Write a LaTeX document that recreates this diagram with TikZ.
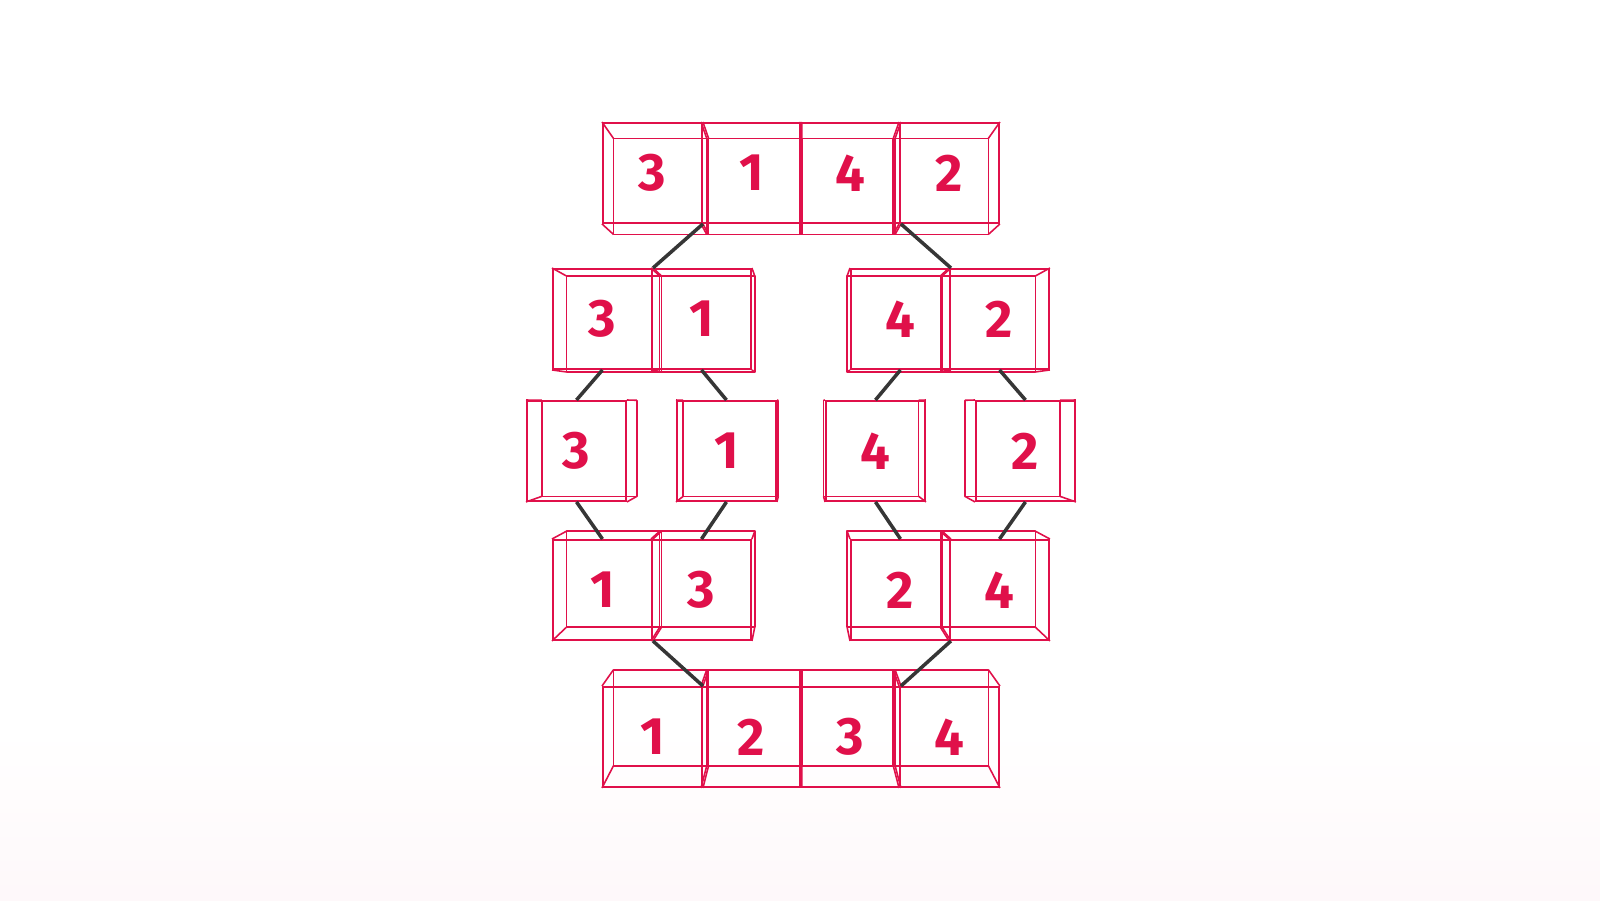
\documentclass[tikz,border=0pt]{standalone}
\usepackage{fontspec}
\setsansfont{Fira Sans}
\usetikzlibrary{calc}

\definecolor{cubered}{HTML}{E0104A}
\definecolor{linkgray}{HTML}{363636}

\tikzset{
  face/.style={draw=cubered, line width=0.55pt, minimum width=0.99cm,
    minimum height=1cm, inner sep=0pt, anchor=north west, text=cubered,
    font=\sffamily\bfseries\fontsize{15}{15}\selectfont},
  edge/.style={draw=cubered, line width=0.45pt, line join=round},
  link/.style={draw=linkgray, line width=1pt}
}

% near face is the node, far face shrinks towards the vanishing point
\newcommand{\drawcube}[4]{%
  \node [face] (#1) at (#2,#3) {#4};
  \coordinate (#1a) at ($(vp)!0.942!(#1.north west)$);
  \coordinate (#1b) at ($(vp)!0.942!(#1.north east)$);
  \coordinate (#1c) at ($(vp)!0.942!(#1.south east)$);
  \coordinate (#1d) at ($(vp)!0.942!(#1.south west)$);
  \draw [edge] (#1a) -- (#1b) -- (#1c) -- (#1d) -- cycle;
  \draw [edge] (#1.north west) -- (#1a);
  \draw [edge] (#1.north east) -- (#1b);
  \draw [edge] (#1.south east) -- (#1c);
  \draw [edge] (#1.south west) -- (#1d);
}

\begin{document}
\begin{tikzpicture}
        \useasboundingbox (0,0) rectangle (16,9);
        % Faint glow on the floor
        \shade [top color=white, bottom color=cubered!3] (0,0) rectangle (16,1.7);
        \coordinate (vp) at (8,4.95);

        % Row 1: unsorted list
        \drawcube{t1}{6.02}{7.78}{3}
        \drawcube{t2}{7.01}{7.78}{1}
        \drawcube{t3}{8.00}{7.78}{4}
        \drawcube{t4}{8.99}{7.78}{2}

        % Row 2: halves
        \drawcube{h1}{5.52}{6.32}{3}
        \drawcube{h2}{6.51}{6.32}{1}
        \drawcube{h3}{8.50}{6.32}{4}
        \drawcube{h4}{9.49}{6.32}{2}

        % Row 3: single items
        \drawcube{s1}{5.26}{5.00}{3}
        \drawcube{s2}{6.76}{5.00}{1}
        \drawcube{s3}{8.25}{5.00}{4}
        \drawcube{s4}{9.75}{5.00}{2}

        % Row 4: merged pairs
        \drawcube{m1}{5.52}{3.61}{1}
        \drawcube{m2}{6.51}{3.61}{3}
        \drawcube{m3}{8.50}{3.61}{2}
        \drawcube{m4}{9.49}{3.61}{4}

        % Row 5: sorted list
        \drawcube{r1}{6.02}{2.14}{1}
        \drawcube{r2}{7.01}{2.14}{2}
        \drawcube{r3}{8.00}{2.14}{3}
        \drawcube{r4}{8.99}{2.14}{4}

        % Links between rows
        \draw [link] (t1.south east) -- (h1.north east);
        \draw [link] (t3.south east) -- (h3.north east);
        \draw [link] (h1.south) -- (s1.north);
        \draw [link] (h2.south) -- (s2.north);
        \draw [link] (h3.south) -- (s3.north);
        \draw [link] (h4.south) -- (s4.north);
        \draw [link] (s1.south) -- (m1.north);
        \draw [link] (s2.south) -- (m2.north);
        \draw [link] (s3.south) -- (m3.north);
        \draw [link] (s4.south) -- (m4.north);
        \draw [link] (m1.south east) -- (r1.north east);
        \draw [link] (m3.south east) -- (r3.north east);
\end{tikzpicture}
\end{document}
